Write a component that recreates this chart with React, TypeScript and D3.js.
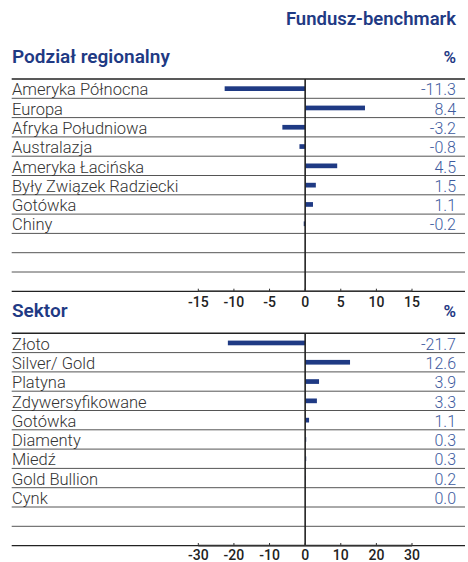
import * as d3 from 'd3';

const regionNames = ['Ameryka Północna', 'Europa', 'Afryka Południowa', 'Australazja', 'Ameryka Łacińska', 'Były Związek Radziecki', 'Gotówka', 'Chiny'];
const regionValues = [-11.3, 8.4, -3.2, -0.8, 4.5, 1.5, 1.1, -0.2];
const regionTicks = [-15, -10, -5, 0, 5, 10, 15];

const sectorNames = ['Złoto', 'Silver/ Gold', 'Platyna', 'Zdywersyfikowane', 'Gotówka', 'Diamenty', 'Miedź', 'Gold Bullion', 'Cynk'];
const sectorValues = [-21.7, 12.6, 3.9, 3.3, 1.1, 0.3, 0.3, 0.2, 0.0];
const sectorTicks = [-30, -20, -10, 0, 10, 20, 30];

const W = 468;
const H = 562;
const NAVY = '#1f3a84';
const VALUE_BLUE = '#3d5a9e';
const FONT = 'Roboto, "Noto Sans", sans-serif';
const ROW_H = 19.3;
const TOTAL_ROWS = 11;

interface PanelProps {
    title: string;
    names: string[];
    values: number[];
    ticks: number[];
    top: number;
    tickDy: number;
}

function Panel({ title, names, values, ticks, top, tickDy }: PanelProps) {
    const lo = ticks[0];
    const hi = ticks[ticks.length - 1];
    const x = d3.scaleLinear().domain([lo, hi]).range([198.3, 412]);
    const y = d3.scaleBand<number>()
        .domain(d3.range(TOTAL_ROWS))
        .range([top, top + ROW_H * TOTAL_ROWS])
        .padding(0);
    const bottom = top + ROW_H * TOTAL_ROWS;
    const barH = 4.7;

    return (
        <g>
            <text x={12} y={top - 16} fill={NAVY} fontSize={19} fontWeight={600} fontFamily={FONT}>{title}</text>
            <text x={456} y={top - 16} fill={NAVY} fontSize={17} fontWeight={600} fontFamily={FONT} textAnchor="end">%</text>

            {/* row separators */}
            {d3.range(1, TOTAL_ROWS + 1).map(i => (
                <line key={i} x1={11.7} x2={465} y1={top + i * ROW_H} y2={top + i * ROW_H}
                    stroke={i === TOTAL_ROWS ? '#222' : '#555'} strokeWidth={i === TOTAL_ROWS ? 1.3 : 1} />
            ))}
            <line x1={11.7} x2={465} y1={top} y2={top} stroke="#222" strokeWidth={1.6} />

            {/* bars */}
            {values.map((v, i) => {
                const yc = (y(i) ?? 0) + ROW_H / 2;
                return (
                    <rect key={names[i]} x={Math.min(x(0), x(v))} width={Math.abs(x(v) - x(0))}
                        y={yc - barH / 2} height={barH} fill={NAVY} />
                );
            })}

            {/* labels and values */}
            {names.map((n, i) => (
                <g key={n}>
                    <text x={12} y={(y(i) ?? 0) + ROW_H - 3} fontSize={16.5} fontWeight={300}
                        fontFamily={FONT} fill="#333">{n}</text>
                    <text x={456} y={(y(i) ?? 0) + ROW_H - 3} fontSize={16} fontWeight={300}
                        fontFamily={FONT} fill={VALUE_BLUE} textAnchor="end">{values[i].toFixed(1)}</text>
                </g>
            ))}

            {/* zero line */}
            <line x1={x(0)} x2={x(0)} y1={top} y2={bottom} stroke="#222" strokeWidth={1.6} />

            {/* axis */}
            <line x1={x(lo)} x2={x(hi)} y1={bottom} y2={bottom} stroke="#333" strokeWidth={1.6} />
            {ticks.map(t => (
                <g key={t}>
                    <line x1={x(t)} x2={x(t)} y1={bottom - 2.6} y2={bottom} stroke="#333" strokeWidth={1} />
                    <text x={x(t)} y={bottom + tickDy} textAnchor="middle" fontSize={14} fontWeight={500}
                        fontFamily={FONT} fill="#222">{t}</text>
                </g>
            ))}
        </g>
    );
}

export default function App() {
    return (
        <svg width={W} height={H} style={{ display: 'block', position: 'absolute', left: 0, top: 0 }}>
            <rect width={W} height={H} fill="#fff" />
            <text x={456} y={25} fill={NAVY} fontSize={18.5} fontWeight={600} fontFamily={FONT} textAnchor="end">Fundusz-benchmark</text>
            <Panel title="Podział regionalny" names={regionNames} values={regionValues} ticks={regionTicks} top={79} tickDy={16} />
            <Panel title="Sektor" names={sectorNames} values={sectorValues} ticks={sectorTicks} top={333.3} tickDy={14} />
        </svg>
    );
}
